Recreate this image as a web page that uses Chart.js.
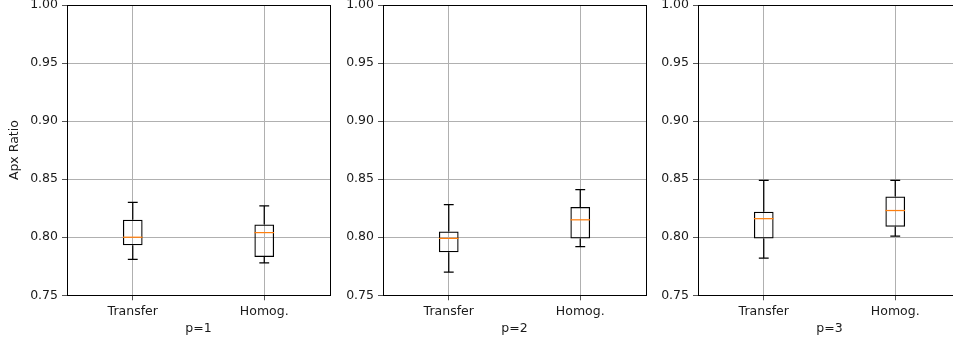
<!DOCTYPE html>
<html>
<head>
<meta charset="utf-8">
<script src="https://cdn.jsdelivr.net/npm/chart.js@4.4.1/dist/chart.umd.min.js"></script>
<style>
  html, body { margin: 0; padding: 0; background: #fff; overflow: hidden; }
  #wrap { position: relative; width: 953px; height: 344px; overflow: hidden; }
  .panel { position: absolute; top: 0; }
</style>
</head>
<body>
<div id="wrap">
  <canvas class="panel" id="p1" width="332" height="344" style="left:0px"></canvas>
  <canvas class="panel" id="p2" width="332" height="344" style="left:316px"></canvas>
  <canvas class="panel" id="p3" width="332" height="344" style="left:631px"></canvas>
</div>
<script>
'use strict';

/* ── DATA (one pair per panel: [Transfer, Homog.]) ── */
const categories  = ['Transfer', 'Homog.'];
const panelTitles = ['p=1', 'p=2', 'p=3'];
const whiskerLow  = [[0.781, 0.778], [0.770, 0.792], [0.782, 0.801]];
const boxLow      = [[0.793, 0.783], [0.787, 0.799], [0.799, 0.809]];
const medians     = [[0.800, 0.804], [0.799, 0.815], [0.816, 0.823]];
const boxHigh     = [[0.815, 0.811], [0.805, 0.826], [0.822, 0.835]];
const whiskerHigh = [[0.830, 0.827], [0.828, 0.841], [0.849, 0.849]];
const yTicks      = [0.75, 0.80, 0.85, 0.90, 0.95, 1.00];

const FONT = "'DejaVu Sans', sans-serif";
const TEXT = '#1a1a1a';

/* ── whiskers, caps, medians and the four spines ── */
const boxPlotExtras = {
  id: 'boxPlotExtras',
  afterDatasetsDraw(chart, args, opts) {
    const { ctx, scales: { x, y } } = chart;
    const meta = chart.getDatasetMeta(0);
    const k = opts.panel;
    ctx.save();
    categories.forEach((cat, i) => {
      const cx = x.getPixelForValue(i);
      const w = meta.data[i].width;
      const cap = w / 2;
      // whiskers
      ctx.strokeStyle = '#000';
      ctx.lineWidth = 1.25;
      ctx.beginPath();
      ctx.moveTo(cx, y.getPixelForValue(boxHigh[k][i]));
      ctx.lineTo(cx, y.getPixelForValue(whiskerHigh[k][i]));
      ctx.moveTo(cx, y.getPixelForValue(boxLow[k][i]));
      ctx.lineTo(cx, y.getPixelForValue(whiskerLow[k][i]));
      // caps
      [whiskerHigh[k][i], whiskerLow[k][i]].forEach(v => {
        const py = y.getPixelForValue(v);
        ctx.moveTo(cx - cap / 2, py);
        ctx.lineTo(cx + cap / 2, py);
      });
      ctx.stroke();
      // median
      const my = y.getPixelForValue(medians[k][i]);
      ctx.strokeStyle = '#ff7f0e';
      ctx.beginPath();
      ctx.moveTo(cx - w / 2, my);
      ctx.lineTo(cx + w / 2, my);
      ctx.stroke();
    });
    ctx.restore();
  },
  afterDraw(chart) {
    const { ctx, chartArea: a } = chart;
    ctx.save();
    ctx.strokeStyle = '#000';
    ctx.lineWidth = 1;
    ctx.strokeRect(Math.round(a.left) + 0.5, Math.round(a.top) + 0.5,
                   Math.round(a.right - a.left), Math.round(a.bottom - a.top));
    ctx.restore();
  },
};

function makePanel(canvasId, k) {
  return new Chart(document.getElementById(canvasId), {
    type: 'bar',
    data: {
      labels: categories,
      datasets: [{
        data: categories.map((c, i) => [boxLow[k][i], boxHigh[k][i]]),
        backgroundColor: 'rgba(0,0,0,0)',
        borderColor: '#000',
        borderWidth: 1.25,
        borderSkipped: false,
        barPercentage: 0.15,
        categoryPercentage: 1,
      }],
    },
    options: {
      responsive: false,
      animation: false,
      layout: { padding: { top: 5, right: 2, bottom: 0, left: 0 } },
      plugins: {
        legend: { display: false },
        tooltip: { enabled: false },
        boxPlotExtras: { panel: k },
      },
      scales: {
        x: {
          offset: true,
          grid: { offset: false, color: '#b0b0b0', lineWidth: 1, tickLength: 5, tickColor: '#555' },
          border: { display: false },
          ticks: { color: TEXT, padding: 4, font: { family: FONT, size: 12.5 }, maxRotation: 0 },
          title: {
            display: true,
            text: panelTitles[k],
            color: TEXT,
            font: { family: FONT, size: 12.5 },
            padding: { top: 0, bottom: 7.5 },
          },
          afterFit: s => { s.height = 48.7; },
        },
        y: {
          min: yTicks[0],
          max: yTicks[yTicks.length - 1],
          afterBuildTicks: s => { s.ticks = yTicks.map(v => ({ value: v })); },
          grid: { color: '#b0b0b0', lineWidth: 1, tickLength: 5, tickColor: '#555' },
          border: { display: false },
          ticks: {
            color: TEXT,
            padding: 4,
            font: { family: FONT, size: 12.5, lineHeight: 0.8 },
            callback: v => Number(v).toFixed(2),
          },
          title: {
            display: k === 0,
            text: 'Apx Ratio',
            color: TEXT,
            font: { family: FONT, size: 12.5 },
            padding: { top: 7.5, bottom: 0 },
          },
          afterFit: s => { s.width = 67; s.paddingTop = 0; s.paddingBottom = 0; },
        },
      },
    },
    plugins: [boxPlotExtras],
  });
}

document.addEventListener('DOMContentLoaded', () => {
  makePanel('p1', 0);
  makePanel('p2', 1);
  makePanel('p3', 2);
});
</script>
</body>
</html>
